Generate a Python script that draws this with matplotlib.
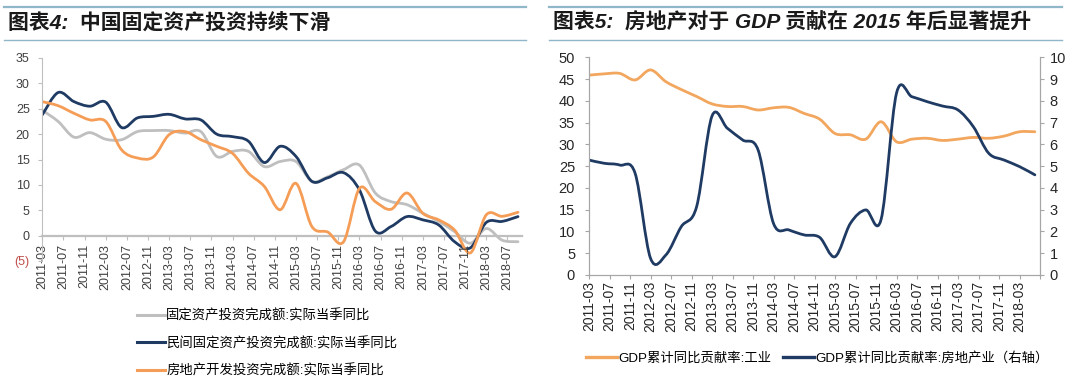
import matplotlib
matplotlib.use('Agg')
import numpy as np
import matplotlib.pyplot as plt
from matplotlib.path import Path
from matplotlib.patches import PathPatch
from matplotlib.lines import Line2D

plt.rcParams['font.family'] = ['Liberation Sans', 'Noto Sans CJK SC', 'DejaVu Sans']

DPI = 100

# ---- left chart: quarterly yoy (%), 2011-03 .. 2018-09
left_quarters = ['2011-03', '2011-06', '2011-09', '2011-12', '2012-03', '2012-06', '2012-09', '2012-12',
                 '2013-03', '2013-06', '2013-09', '2013-12', '2014-03', '2014-06', '2014-09', '2014-12',
                 '2015-03', '2015-06', '2015-09', '2015-12', '2016-03', '2016-06', '2016-09', '2016-12',
                 '2017-03', '2017-06', '2017-09', '2017-12', '2018-03', '2018-06', '2018-09']
fai_total = [24.7, 22.5, 19.4, 20.3, 19.0, 18.9, 20.5, 20.7, 20.7, 20.2, 20.5, 15.6, 16.6, 16.6, 13.6, 14.6,
             14.6, 10.7, 11.6, 13.0, 13.9, 8.4, 6.7, 6.1, 4.4, 2.8, 0.8, -1.5, 1.4, -0.9, -1.2]
fai_private = [23.8, 28.2, 26.4, 25.5, 26.3, 21.3, 23.2, 23.5, 23.9, 23.0, 22.8, 20.0, 19.5, 18.6, 14.4, 17.6,
               15.6, 10.7, 11.4, 12.4, 9.0, 0.9, 1.8, 3.75, 3.1, 2.1, -1.2, -2.4, 2.6, 2.8, 3.75]
fai_realestate = [26.4, 25.6, 24.1, 22.8, 22.5, 16.9, 15.3, 15.5, 19.9, 20.5, 18.9, 17.6, 16.2, 12.3, 9.7, 5.1,
                  10.3, 1.8, 0.7, -1.2, 9.3, 6.7, 5.2, 8.4, 4.4, 3.1, 1.1, -3.4, 4.1, 3.8, 4.6]
left_ticks = ['2011-03', '2011-07', '2011-11', '2012-03', '2012-07', '2012-11', '2013-03', '2013-07',
              '2013-11', '2014-03', '2014-07', '2014-11', '2015-03', '2015-07', '2015-11', '2016-03',
              '2016-07', '2016-11', '2017-03', '2017-07', '2017-11', '2018-03', '2018-07']
left_yticks = [-5, 0, 5, 10, 15, 20, 25, 30, 35]
left_ylabels = ['(5)', '0', '5', '10', '15', '20', '25', '30', '35']
left_names = ['固定资产投资完成额:实际当季同比', '民间固定资产投资完成额:实际当季同比', '房地产开发投资完成额:实际当季同比']

# ---- right chart: GDP contribution (%), 2011-03 .. 2018-06
right_quarters = left_quarters[:30]
gdp_industry = [45.9, 46.2, 46.3, 44.8, 47.1, 44.4, 42.6, 41.0, 39.3, 38.7, 38.7, 37.9, 38.4, 38.5, 37.1,
                35.8, 32.5, 32.2, 31.2, 35.2, 30.6, 31.2, 31.4, 30.9, 31.2, 31.6, 31.4, 31.9, 32.9, 32.9]
gdp_realestate = [5.28, 5.13, 5.05, 4.67, 0.77, 0.92, 2.22, 3.14, 7.3, 6.74, 6.2, 5.74, 2.37, 2.07, 1.84,
                  1.73, 0.84, 2.37, 2.99, 2.56, 8.35, 8.19, 7.96, 7.76, 7.58, 6.81, 5.59, 5.28, 4.98, 4.6]
right_ticks = left_ticks[:22]
right_names = ['GDP累计同比贡献率:工业', 'GDP累计同比贡献率:房地产业（右轴）']

GRAY = '#BFBFBF'
NAVY = '#1F3B63'
ORANGE = '#F59D56'
ORANGE_R = '#F2A65E'
AXIS = '#A6A6A6'


def month_idx(s):
    y, m = s.split('-')
    return (int(y) - 2011) * 12 + int(m) - 3


def smooth_line(ax, x, y, color, lw):
    # excel-style smoothed line (bezier through the data points)
    x = np.asarray(x, float)
    y = np.asarray(y, float)
    px = np.r_[x[0], x, x[-1]]
    py = np.r_[y[0], y, y[-1]]
    verts = [(x[0], y[0])]
    codes = [Path.MOVETO]
    for i in range(len(x) - 1):
        c1 = (x[i] + (px[i + 2] - px[i]) / 6, y[i] + (py[i + 2] - py[i]) / 6)
        c2 = (x[i + 1] - (px[i + 3] - px[i + 1]) / 6, y[i + 1] - (py[i + 3] - py[i + 1]) / 6)
        verts += [c1, c2, (x[i + 1], y[i + 1])]
        codes += [Path.CURVE4] * 3
    ax.add_patch(PathPatch(Path(verts, codes), fill=False, edgecolor=color, lw=lw,
                           capstyle='round', joinstyle='round'))


fig = plt.figure(figsize=(1080 / DPI, 391 / DPI), dpi=DPI)

# titles with rules
for x0, x1, title in [(4, 526, '图表4:  中国固定资产投资持续下滑'),
                      (549, 1062, '图表5:  房地产对于 GDP 贡献在 2015 年后显著提升')]:
    fig.add_artist(Line2D([x0 / 1080, x1 / 1080], [1 - 7 / 391] * 2, color='#8FB6C9', lw=1.6))
    fig.add_artist(Line2D([x0 / 1080, x1 / 1080], [1 - 40 / 391] * 2, color='#8FB6C9', lw=1.0))
    fig.text((x0 + 4) / 1080, 1 - 23 / 391, title, fontsize=15, fontweight='bold', color='#1a1a1a',
             va='center', ha='left', style='italic')

# ---- left chart
ax1 = fig.add_axes([42.3 / 1080, 1 - 261 / 391, (521.7 - 42.3) / 1080, (261 - 58) / 391])
for s in ['top', 'right']:
    ax1.spines[s].set_visible(False)
ax1.spines['bottom'].set_position(('data', 0))
xl = [month_idx(q) for q in left_quarters]
smooth_line(ax1, xl, fai_total, GRAY, 2.0)
smooth_line(ax1, xl, fai_private, NAVY, 2.0)
smooth_line(ax1, xl, fai_realestate, ORANGE, 2.0)
ax1.set_xlim(0, 90.7)
ax1.set_ylim(-5, 35)
ax1.set_yticks(left_yticks)
ax1.set_yticklabels(left_ylabels)
ax1.set_xticks([month_idx(t) for t in left_ticks])
ax1.set_xticklabels(left_ticks, rotation=90)
ax1.spines['bottom'].set_color(GRAY)
ax1.spines['bottom'].set_linewidth(1.6)
ax1.spines['bottom'].set_zorder(0.5)
ax1.spines['left'].set_color(GRAY)
ax1.spines['left'].set_linewidth(0.8)
ax1.tick_params(axis='y', length=3, color=GRAY, labelsize=9, pad=6, labelcolor='#404040')
ax1.tick_params(axis='x', length=3, color=GRAY, labelsize=9, pad=3, labelcolor='#404040')
ax1.get_yticklabels()[0].set_color('#C0504D')

hl = [Line2D([], [], color=c, lw=2.2) for c in (GRAY, NAVY, ORANGE)]
fig.legend(hl, left_names, loc='upper left', bbox_to_anchor=(137 / 1080, 1 - 309 / 391),
           frameon=False, fontsize=9.6, handlelength=2.1, handletextpad=0.1, labelspacing=1.1,
           borderpad=0, borderaxespad=0)

# ---- right chart
ax2 = fig.add_axes([589 / 1080, 1 - 275 / 391, (1040 - 589) / 1080, (275 - 57.3) / 391])
ax3 = ax2.twinx()
xr = [month_idx(q) for q in right_quarters]
smooth_line(ax2, xr, gdp_industry, ORANGE_R, 2.0)
smooth_line(ax3, xr, gdp_realestate, NAVY, 2.0)
ax2.set_xlim(0, 88)
ax2.set_ylim(0, 50)
ax3.set_ylim(0, 10)
ax2.set_yticks(range(0, 51, 5))
ax3.set_yticks(range(0, 11))
ax2.set_xticks([month_idx(t) for t in right_ticks] + [88])
ax2.set_xticklabels(right_ticks + [''], rotation=90)
for a in (ax2, ax3):
    a.spines['top'].set_visible(False)
    for s in ['left', 'right', 'bottom']:
        a.spines[s].set_color(AXIS)
        a.spines[s].set_linewidth(0.8)
ax2.tick_params(axis='both', length=3, color=AXIS, labelsize=10.5, labelcolor='#262626')
ax2.tick_params(axis='x', labelsize=10, pad=1.5)
ax2.tick_params(axis='y', pad=7)
ax3.tick_params(axis='y', length=3, color=AXIS, labelsize=10.5, labelcolor='#262626', pad=4)

hr = [Line2D([], [], color=c, lw=2.4) for c in (ORANGE_R, NAVY)]
fig.legend(hr, right_names, loc='center left', bbox_to_anchor=(586 / 1080, 1 - 358 / 391),
           ncol=2, frameon=False, fontsize=9.6, handlelength=2.3, handletextpad=0.1,
           columnspacing=0.9, borderpad=0, borderaxespad=0)

fig.savefig('out.png', dpi=DPI)
